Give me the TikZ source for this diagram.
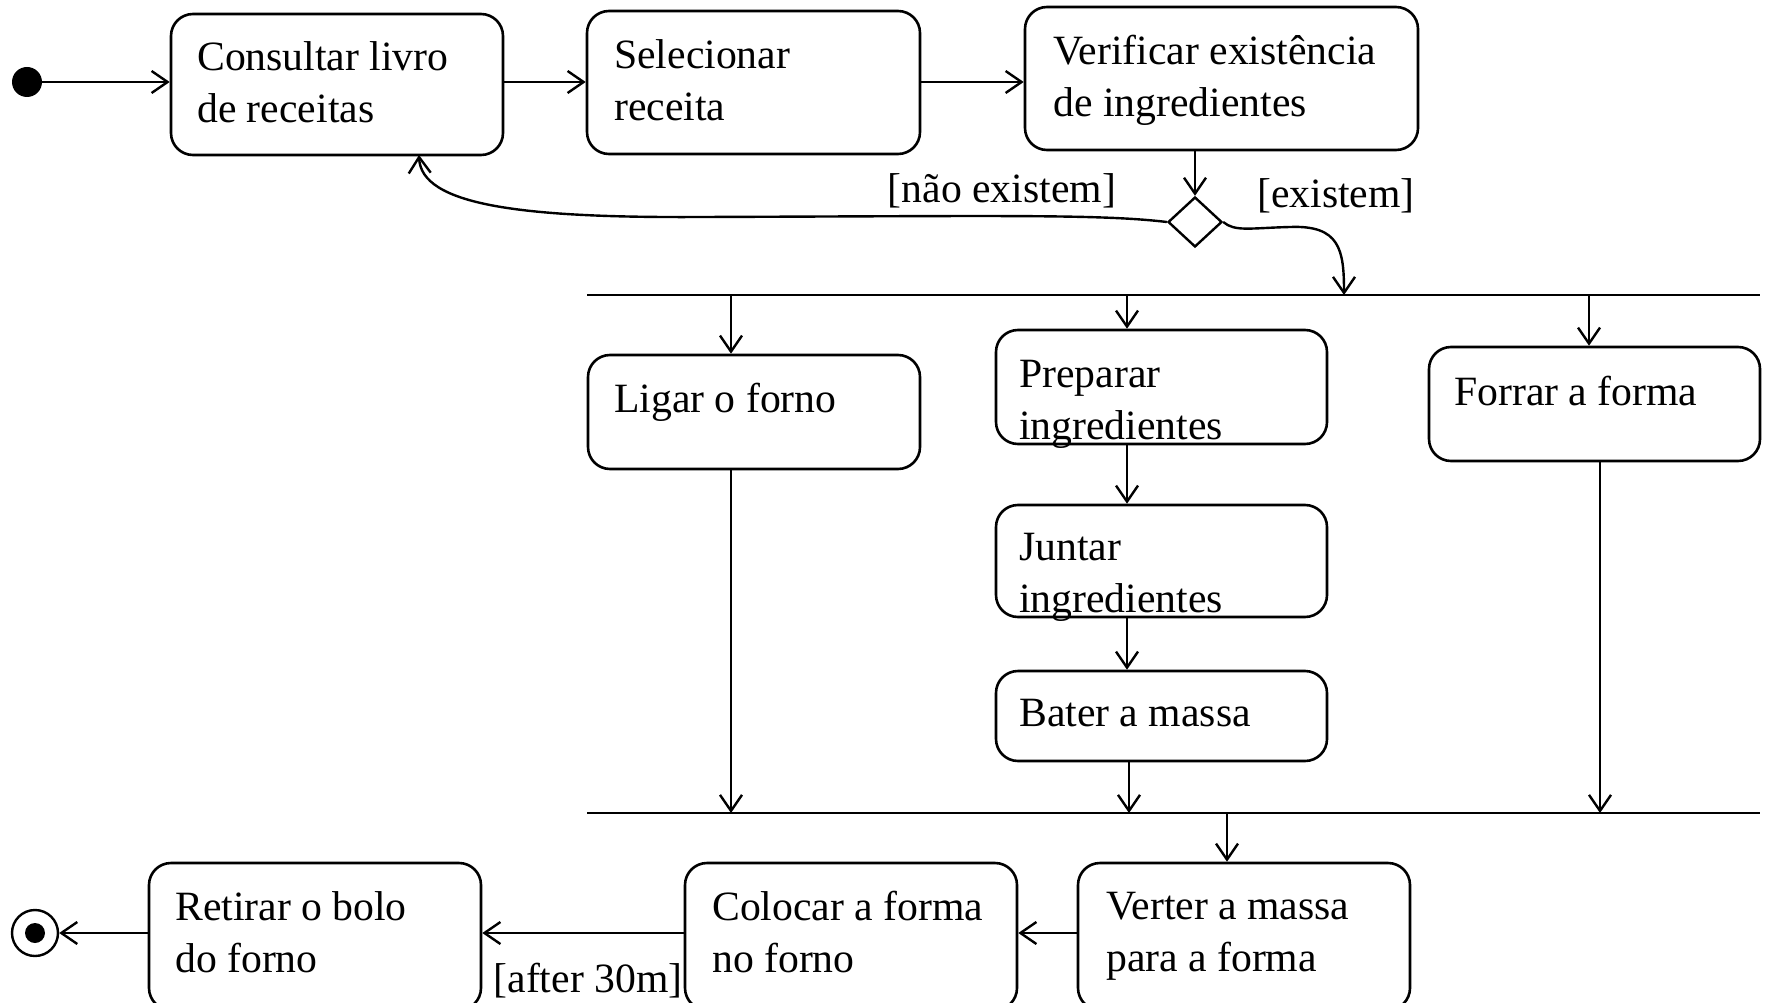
\documentclass[tikz,border=0pt]{standalone}
\usepackage{fontspec}
\setmainfont{Liberation Serif}
\usetikzlibrary{arrows.meta,shapes.geometric}
\begin{document}
\begin{tikzpicture}[x=1pt,y=-1pt,
  box/.style={draw,line width=2.6pt,rounded corners=22pt,inner sep=0pt},
  txt/.style={anchor=west,align=left,inner sep=0pt,font=\fontsize{41.7pt}{52pt}\selectfont},
  lab/.style={inner sep=0pt,font=\fontsize{41.7pt}{52pt}\selectfont},
  arr/.style={draw,line width=2.4pt,-{Straight Barb[length=16pt,width=22pt]}},
  bar/.style={draw,line width=2.8pt}]
\useasboundingbox (0,0) rectangle (1766,1003);
\clip (0,0) rectangle (1766,1003);
% initial node
\node[circle,fill,minimum size=30pt,inner sep=0pt] (init) at (27,82) {};
% top row
\node[box,minimum width=332pt,minimum height=141pt] (b1) at (337,84.5) {};
\node[txt] (t1) at (197,82) {Consultar livro\\de receitas};
\node[box,minimum width=333pt,minimum height=143pt] (b2) at (753.5,82.5) {};
\node[txt] (t2) at (614,80) {Selecionar\\receita};
\node[box,minimum width=393pt,minimum height=143pt] (b3) at (1221.5,78.5) {};
\node[txt] (t3) at (1053,80) {Verificar existência\\de ingredientes};
% decision
\node[diamond,draw,line width=2.4pt,minimum width=54pt,minimum height=50pt,inner sep=0pt] (dia) at (1195,222) {};
\node[lab] (lno) at (1002,191) {[não existem]};
\node[lab] (lyes) at (1336,196) {[existem]};
% fork bar
\coordinate (fL) at (587,295);
\coordinate (fR) at (1760,295);
\draw[bar] (fL) -- (fR);
\coordinate (f1) at (731,295);
\coordinate (f2) at (1127,295);
\coordinate (f3) at (1589,295);
\coordinate (f0) at (1344,295);
% middle boxes
\node[box,minimum width=332pt,minimum height=114pt] (lig) at (754,412) {};
\node[txt] (tlig) at (614,402) {Ligar o forno};
\node[box,minimum width=331pt,minimum height=114pt] (prep) at (1161.5,387) {};
\node[txt] (tprep) at (1019,404) {Preparar\\ingredientes};
\node[box,minimum width=331pt,minimum height=112pt] (junt) at (1161.5,561) {};
\node[txt] (tjunt) at (1019,577) {Juntar\\ingredientes};
\node[box,minimum width=331pt,minimum height=90pt] (bat) at (1161.5,716) {};
\node[txt] (tbat) at (1019,713) {Bater a massa};
\node[box,minimum width=331pt,minimum height=114pt] (forr) at (1594.5,404) {};
\node[txt] (tforr) at (1454,391) {Forrar a forma};
% join bar
\coordinate (jL) at (587,813);
\coordinate (jR) at (1760,813);
\draw[bar] (jL) -- (jR);
\coordinate (j1) at (731,813);
\coordinate (j2) at (1129,813);
\coordinate (j3) at (1600,813);
\coordinate (j4) at (1227,813);
% bottom row
\node[box,minimum width=332pt,minimum height=147pt] (ver) at (1244,936.5) {};
\node[txt] (tver) at (1106,936) {Verter a massa\\para a forma};
\node[box,minimum width=332pt,minimum height=147pt] (col) at (851,936.5) {};
\node[txt] (tcol) at (712,932) {Colocar a forma\\no forno};
\node[box,minimum width=332pt,minimum height=147pt] (ret) at (315,936.5) {};
\node[txt] (tret) at (175,932) {Retirar o bolo\\do forno};
\node[lab] (lafter) at (588,981) {[after 30m]};
% final node
\node[circle,draw,line width=2.4pt,minimum size=46pt,inner sep=0pt] (fin) at (35,933) {};
\node[circle,fill,minimum size=20pt,inner sep=0pt] (fin2) at (fin) {};
% connectors
\coordinate (row) at (0,933);
\coordinate (b1in) at (419,155);
\draw[arr] (init) -- (init -| b1.west);
\draw[arr] (b1.east |- init) -- (b2.west |- init);
\draw[arr] (b2.east |- init) -- (b3.west |- init);
\draw[arr] (dia.north |- b3.south) -- (dia.north);
\draw[arr] (dia.west) .. controls (1100,214) and (1000,216) .. (700,217) .. controls (520,218) and (421,205) .. (b1in);
\draw[arr] (dia.east) .. controls (1235,232) and (1250,228) .. (1290,227) .. controls (1340,225) and (1344,250) .. (f0);
\draw[arr] (f1) -- (f1 |- lig.north);
\draw[arr] (f2) -- (f2 |- prep.north);
\draw[arr] (f3) -- (f3 |- forr.north);
\draw[arr] (f2 |- prep.south) -- (f2 |- junt.north);
\draw[arr] (f2 |- junt.south) -- (f2 |- bat.north);
\draw[arr] (j2 |- bat.south) -- (j2);
\draw[arr] (j1 |- lig.south) -- (j1);
\draw[arr] (j3 |- forr.south) -- (j3);
\draw[arr] (j4) -- (j4 |- ver.north);
\draw[arr] (ver.west |- row) -- (col.east |- row);
\draw[arr] (col.west |- row) -- (ret.east |- row);
\draw[arr] (ret.west |- row) -- (fin.east);
\end{tikzpicture}
\end{document}
